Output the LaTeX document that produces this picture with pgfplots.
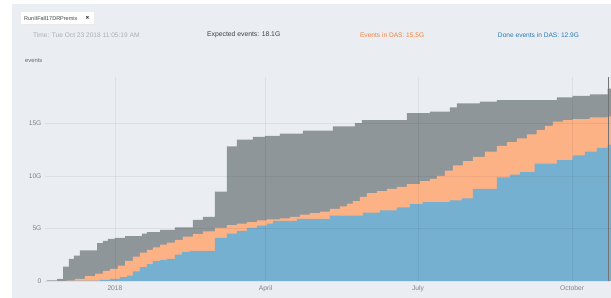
\documentclass[border=0pt]{standalone}
\usepackage{pgfplots}
\pgfplotsset{compat=1.18}
\usepackage{fontspec}
\setmainfont{Liberation Sans}
\newfontfamily\symfont{DejaVu Sans}
\definecolor{bg}{RGB}{234,238,242}
\definecolor{grayc}{RGB}{143,150,153}
\definecolor{orangec}{RGB}{253,178,134}
\definecolor{bluec}{RGB}{117,176,208}
\definecolor{tickc}{RGB}{125,130,136}
\definecolor{timec}{RGB}{170,176,184}
\definecolor{darkc}{RGB}{60,64,68}
\definecolor{orangetext}{RGB}{240,130,60}
\definecolor{bluetext}{RGB}{40,120,180}
\begin{document}
\begin{tikzpicture}
\begin{scope}[x=1pt,y=1pt]
\useasboundingbox (0,0) rectangle (611,-298);
\fill[white] (0,0) rectangle (611,-298);
\fill[bg] (12,-4) rectangle (611,-298);
% filter chip
\fill[black!8] (21.2,-12.8) rectangle (94.8,-24.6);
\fill[white] (20.7,-12.3) rectangle (94.3,-24);
\node[anchor=west, inner sep=0, text=darkc] at (24,-18.2) {\fontsize{5.5}{6}\selectfont RunIIFall17DRPremix};
\node[inner sep=0, text=darkc] at (87.5,-18.2) {\symfont\fontsize{4.5}{5}\selectfont ✖};
% header line
\node[anchor=west, inner sep=0, text=timec] at (33,-35) {\fontsize{6.6}{7}\selectfont Time: Tue Oct 23 2018 11:05:19 AM};
\node[anchor=west, inner sep=0, text=darkc] at (207,-35) {\fontsize{6.8}{7}\selectfont Expected events: 18.1G};
\node[anchor=west, inner sep=0, text=orangetext] at (360,-35) {\fontsize{6.6}{7}\selectfont Events in DAS: 15.5G};
\node[anchor=west, inner sep=0, text=bluetext] at (498,-35) {\fontsize{6.6}{7}\selectfont Done events in DAS: 12.9G};
\node[anchor=west, inner sep=0, text=darkc!80] at (25,-60.7) {\fontsize{5.8}{6}\selectfont events};
\end{scope}
\begin{axis}[
  at={(45pt,-281pt)}, anchor=south west,
  width=566pt, height=204pt, scale only axis,
  xmin=-41.8, xmax=296.1, ymin=0, ymax=19.4,
  axis line style={draw=none},
  major tick length=0pt,
  xtick={0,90,181,273}, xticklabels={2018,April,July,October},
  ytick={0,5,10,15}, yticklabels={0,5G,10G,15G},
  grid=major,
  major grid style={black, opacity=0.06, line width=0.5pt},
  axis on top,
  ticklabel style={font=\fontsize{6.7}{7}\selectfont, text=tickc},
  xticklabel style={yshift=-1.5pt},
  /pgf/number format/assume math mode=true,
]
% expected events
\addplot[const plot, fill=grayc, draw=none] table {
x y
-40.6 0.05
-34.6 0.2
-31.0 1.35
-27.5 2.1
-24.5 2.4
-20.9 2.9
-10.7 3.6
-7.2 3.8
-4.2 4.0
0 4.1
6.0 4.25
16.1 4.5
19.1 4.65
26.9 4.85
35.8 5.1
46.6 5.8
52.5 6.1
59.7 8.5
66.9 12.8
72.8 13.45
82.4 13.7
89.6 13.8
98.5 14.0
112.2 14.3
130.1 14.7
143.3 15.0
147.5 15.3
174.3 15.95
188.1 16.1
200.0 16.5
204.2 16.9
217.9 17.05
228.1 17.2
263.9 17.45
273.4 17.6
283.6 17.75
294.3 18.3
296.1 18.3
} \closedcycle;
% events in DAS
\addplot[const plot, fill=orangec, draw=none] table {
x y
-28.7 0.05
-23.9 0.2
-17.9 0.45
-11.9 0.7
-7.2 0.95
-3.0 1.15
1.8 1.45
6.0 1.9
10.7 2.3
14.9 2.7
19.1 2.95
22.7 3.2
26.9 3.45
31.0 3.65
35.8 3.9
40.6 4.2
46.6 4.45
52.5 4.7
59.7 5.05
66.9 5.3
72.8 5.45
78.8 5.6
84.8 5.75
90.7 5.85
98.5 5.95
104.5 6.1
110.4 6.3
116.4 6.45
122.4 6.6
128.4 6.85
134.3 7.1
138.5 7.35
142.1 7.6
146.3 8.0
150.4 8.35
156.4 8.55
162.4 8.75
168.4 8.95
174.3 9.2
182.1 9.5
188.1 9.7
192.2 10.0
197.0 10.5
201.8 11.0
207.8 11.4
213.7 11.8
220.9 12.3
228.1 12.85
234.0 13.2
240.0 13.55
246.0 13.95
251.9 14.35
256.7 14.75
261.5 15.15
267.5 15.3
273.4 15.4
283.6 15.55
294.3 15.65
296.1 15.65
} \closedcycle;
% done events in DAS
\addplot[const plot, fill=bluec, draw=none] table {
x y
-28.7 0.02
-9.0 0.1
-3.0 0.2
3.0 0.35
7.2 0.5
10.7 0.9
14.9 1.3
19.1 1.6
22.7 1.9
26.9 2.0
31.0 2.1
35.8 2.5
40.0 2.75
44.8 2.85
59.7 4.1
66.9 4.5
72.8 4.75
78.8 5.05
84.8 5.25
90.7 5.45
94.3 5.7
108.7 5.9
128.4 6.2
148.1 6.5
158.2 6.7
168.4 7.0
176.1 7.3
183.9 7.5
200.0 7.65
207.2 7.85
213.7 8.75
228.1 9.85
235.8 10.1
241.8 10.35
250.7 11.15
263.9 11.5
273.4 11.95
280.6 12.3
287.8 12.65
294.3 12.95
296.1 12.95
} \closedcycle;
\draw[black!55, line width=0.5pt] (axis cs:294.6,0) -- (axis cs:294.6,19.4);
\end{axis}
\end{tikzpicture}
\end{document}
